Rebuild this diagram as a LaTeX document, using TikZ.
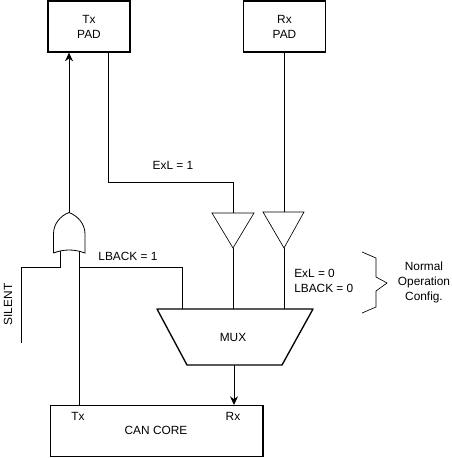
\documentclass[tikz,border=0pt]{standalone}
\usepackage{fontspec}
\setmainfont{Liberation Sans}
\usetikzlibrary{arrows.meta}
\tikzset{
  blockbox/.style={draw, line width=1pt, minimum width=#1, align=center, inner sep=0pt},
  wire/.style={line width=0.7pt},
  txt/.style={font=\fontsize{8.9}{11.2}\selectfont, inner sep=0pt, align=center},
}
\begin{document}
\begin{tikzpicture}[>={Stealth[length=6.5pt,width=6pt]}, x=0.75pt, y=-0.75pt]
\useasboundingbox (0,0) rectangle (452,458);
\node[blockbox=61.5pt, minimum height=38.2pt, font=\fontsize{8.9}{11.2}\selectfont] (txpad) at (89,26.5) {Tx\\PAD};
\node[blockbox=61.5pt, minimum height=38.2pt, font=\fontsize{8.9}{11.2}\selectfont] (rxpad) at (284.5,26.5) {Rx\\PAD};
\node[blockbox=159.5pt, minimum height=38.2pt] (core) at (156.5,431) {};
\node[txt] (corelabel) at (156,430) {CAN CORE};
\node[txt] (coretx) at (78,416) {Tx};
\node[txt] (corerx) at (233,416) {Rx};
% mux
\coordinate (ma) at (157,309);
\coordinate (mb) at (313,309);
\coordinate (mc) at (282,365);
\coordinate (md) at (187,365);
\draw[line width=1pt, line join=round] (ma) -- (mb) -- (mc) -- (md) -- cycle;
\node[txt] (muxlabel) at (233,337) {MUX};
% buffers
\coordinate (la) at (212,213);
\coordinate (lb) at (254,213);
\coordinate (lc) at (233,248);
\coordinate (ra) at (263,212);
\coordinate (rb) at (304,212);
\coordinate (rc) at (284,248);
\draw[line width=0.5pt] (la) -- (lb) -- (lc) -- cycle;
\draw[line width=0.5pt] (ra) -- (rb) -- (rc) -- cycle;
% or gate
\coordinate (gtop) at (69,212.5);
\coordinate (gl) at (53.5,253);
\coordinate (gr) at (85,253);
\draw[line width=0.6pt] (gl) -- (53.5,234) .. controls (53.5,224) and (60,216) .. (gtop)
  .. controls (78,216) and (85,224) .. (85,234) -- (gr)
  .. controls (74,249) and (64,249) .. (gl);
% wires
\coordinate (gtx) at (79,250.5);
\coordinate (gsil) at (60,251);
\coordinate (silb) at (21,267);
\coordinate (silc) at (21,343);
\coordinate (bm) at (182,309);
\coordinate (tj) at (79,267);
\coordinate (txout) at (108,52);
\coordinate (txbend) at (108,182);
\coordinate (lin) at (233,213);
\coordinate (muxout) at (234,365);
\coordinate (corein) at (234,405);
\draw[->, wire] (gtop) -- (txpad.south -| gtop);
\draw[wire] (txout) -- (txbend) -| (lin);
\draw[wire] (rxpad.south) -- (rxpad.south |- ra);
\draw[wire] (lc) -- (lc |- ma);
\draw[wire] (rc) -- (rc |- ma);
\draw[wire] (gsil) |- (silb) -- (silc);
\draw[wire] (gtx) -- (core.north -| gtx);
\draw[wire] (tj) -| (bm);
\draw[->, wire] (muxout) -- (corein);
% labels
\node[txt] (exl) at (173,165) {ExL = 1};
\node[txt] (lback) at (128,256) {LBACK = 1};
\node[txt, anchor=west] (exlz) at (294,273) {ExL = 0};
\node[txt, anchor=west] (lbackz) at (294,288) {LBACK = 0};
\node[txt, rotate=90] (silent) at (8,304.5) {SILENT};
\node[txt] (normal) at (424,282) {Normal\\Operation\\Config.};
% brace
\draw[line width=0.5pt] (362,252) -- (376,258) -- (376,277) -- (387,283) -- (376,291) -- (376,307) -- (362,313);
\end{tikzpicture}
\end{document}
